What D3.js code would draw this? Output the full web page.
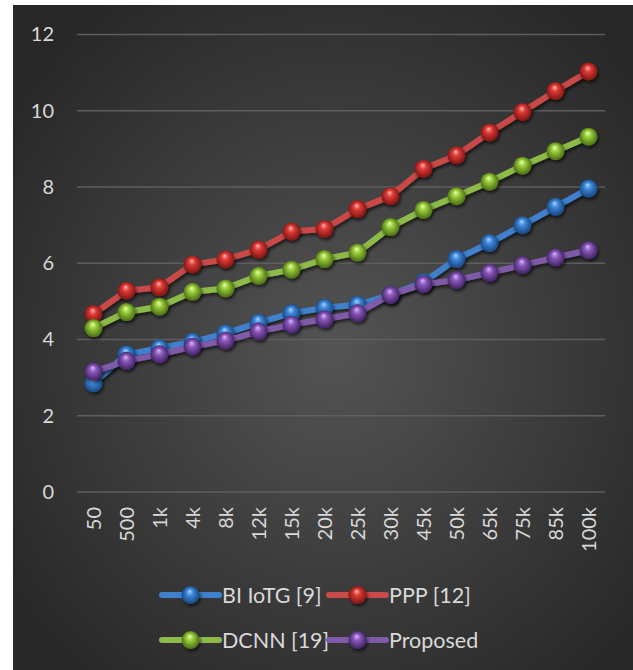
<!DOCTYPE html>
<html>
<head>
<meta charset="utf-8">
<script src="https://cdn.jsdelivr.net/npm/d3@7"></script>
<style>
  body { margin: 0; background: #fff; }
  svg { display: block; }
  text { font-family: Lato, "Open Sans", sans-serif; }
</style>
</head>
<body>
<div id="wrapper"></div>
<script>
// categories on the x axis
const categories = ["50", "500", "1k", "4k", "8k", "12k", "15k", "20k", "25k", "30k", "45k", "50k", "65k", "75k", "85k", "100k"];
const yTicks = [0, 2, 4, 6, 8, 10, 12];

// series values
const biIotg = [2.85, 3.61, 3.77, 3.94, 4.16, 4.44, 4.69, 4.83, 4.91, 5.17, 5.50, 6.11, 6.53, 7.00, 7.48, 7.96];
const ppp = [4.67, 5.28, 5.37, 5.97, 6.10, 6.36, 6.83, 6.90, 7.42, 7.76, 8.48, 8.83, 9.43, 9.97, 10.52, 11.03];
const dcnn = [4.30, 4.72, 4.86, 5.25, 5.34, 5.67, 5.83, 6.11, 6.28, 6.95, 7.40, 7.76, 8.14, 8.56, 8.94, 9.32];
const proposed = [3.16, 3.44, 3.61, 3.81, 3.97, 4.21, 4.39, 4.53, 4.69, 5.17, 5.45, 5.56, 5.75, 5.95, 6.15, 6.34];

const seriesNames = ["BI IoTG [9]", "PPP [12]", "DCNN [19]", "Proposed"];

function buildChart() {
    const width = 633, height = 670;
    const plot = { left: 77, right: 605, top: 34.5, bottom: 492 };

    const series = [
        { name: seriesNames[0], values: biIotg, line: "#3f80cc", light: "#a8d4ff", mid: "#3d87d8", dark: "#1d4f8c" },
        { name: seriesNames[1], values: ppp, line: "#c94a48", light: "#ffb0aa", mid: "#dc3a36", dark: "#8a1a18" },
        { name: seriesNames[2], values: dcnn, line: "#8dba4a", light: "#eaffb0", mid: "#98cc3a", dark: "#557a1a" },
        { name: seriesNames[3], values: proposed, line: "#7f5aa8", light: "#d8b8ff", mid: "#8a58b8", dark: "#4a2a70" }
    ];

    const svg = d3.select("#wrapper").append("svg")
        .attr("width", width)
        .attr("height", height);

    const defs = svg.append("defs");

    const bg = defs.append("radialGradient")
        .attr("id", "bg")
        .attr("cx", "52%").attr("cy", "52%").attr("r", "65%");
    bg.append("stop").attr("offset", "0%").attr("stop-color", "#545454");
    bg.append("stop").attr("offset", "100%").attr("stop-color", "#272727");

    const shadow = defs.append("filter")
        .attr("id", "shadow")
        .attr("x", "-50%").attr("y", "-50%").attr("width", "200%").attr("height", "200%");
    shadow.append("feDropShadow")
        .attr("dx", 1.5).attr("dy", 2.5)
        .attr("stdDeviation", 1.8)
        .attr("flood-color", "#000").attr("flood-opacity", 0.6);

    series.forEach((s, i) => {
        const g = defs.append("radialGradient")
            .attr("id", "ball" + i)
            .attr("cx", "50%").attr("cy", "50%").attr("r", "55%")
            .attr("fx", "45%").attr("fy", "28%");
        g.append("stop").attr("offset", "0%").attr("stop-color", s.light);
        g.append("stop").attr("offset", "35%").attr("stop-color", s.mid);
        g.append("stop").attr("offset", "85%").attr("stop-color", s.dark);
        g.append("stop").attr("offset", "100%").attr("stop-color", s.dark);
    });

    // background panel
    svg.append("rect")
        .attr("x", 13).attr("y", 5)
        .attr("width", width - 13).attr("height", height - 5)
        .attr("fill", "url(#bg)");

    const x = d3.scalePoint()
        .domain(categories)
        .range([plot.left, plot.right])
        .padding(0.5);

    const y = d3.scaleLinear()
        .domain([0, 12])
        .range([plot.bottom, plot.top]);

    // gridlines
    svg.append("g")
        .selectAll("line")
        .data(yTicks)
        .enter()
        .append("line")
        .attr("x1", plot.left).attr("x2", plot.right)
        .attr("y1", d => y(d)).attr("y2", d => y(d))
        .attr("stroke", "#5e5e5e")
        .attr("stroke-width", 1.3);

    // y axis labels
    const yAxis = svg.append("g")
        .attr("transform", `translate(${plot.left - 23},0)`)
        .call(d3.axisLeft(y).tickValues(yTicks).tickSize(0).tickPadding(0));
    yAxis.select(".domain").remove();
    yAxis.selectAll("text")
        .attr("fill", "#d9d9d9")
        .style("font-size", "20px");

    // x axis labels, rotated
    const xAxis = svg.append("g")
        .attr("transform", `translate(0,${plot.bottom})`)
        .call(d3.axisBottom(x).tickSize(0).tickPadding(0));
    xAxis.select(".domain").remove();
    xAxis.selectAll("text")
        .attr("fill", "#d9d9d9")
        .style("font-size", "20px")
        .attr("transform", "rotate(-90)")
        .attr("text-anchor", "end")
        .attr("x", -15)
        .attr("y", 0)
        .attr("dy", "0.35em");

    const line = d3.line()
        .x((d, i) => x(categories[i]))
        .y(d => y(d));

    // lines and markers, drawn series by series
    series.forEach((s, i) => {
        const g = svg.append("g").attr("class", "series");
        g.append("path")
            .attr("d", line(s.values))
            .attr("fill", "none")
            .attr("stroke", s.line)
            .attr("stroke-width", 6)
            .attr("stroke-linejoin", "round")
            .attr("filter", "url(#shadow)");
        g.selectAll("circle")
            .data(s.values)
            .enter()
            .append("circle")
            .attr("cx", (d, j) => x(categories[j]))
            .attr("cy", d => y(d))
            .attr("r", 9)
            .attr("fill", "url(#ball" + i + ")")
            .attr("filter", "url(#shadow)");
    });

    // legend
    const legendPos = [
        { x: 162, y: 595 }, { x: 329, y: 595 },
        { x: 162, y: 640 }, { x: 329, y: 640 }
    ];
    series.forEach((s, i) => {
        const p = legendPos[i];
        const lg = svg.append("g").attr("transform", `translate(${p.x},${p.y})`);
        lg.append("line")
            .attr("x1", 0).attr("x2", 57)
            .attr("y1", 0).attr("y2", 0)
            .attr("stroke", s.line)
            .attr("stroke-width", 6)
            .attr("stroke-linecap", "round");
        lg.append("circle")
            .attr("cx", 28.5).attr("cy", 0)
            .attr("r", 9)
            .attr("fill", "url(#ball" + i + ")")
            .attr("filter", "url(#shadow)");
        lg.append("text")
            .attr("x", 60).attr("y", 0)
            .attr("dy", "0.35em")
            .attr("fill", "#d9d9d9")
            .style("font-size", "21.5px")
            .text(s.name);
    });
}

buildChart();
</script>
</body>
</html>
